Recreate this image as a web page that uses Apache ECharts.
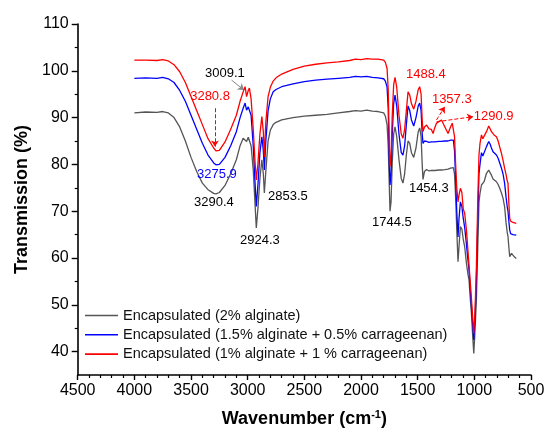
<!DOCTYPE html>
<html><head><meta charset="utf-8">
<script src="https://cdn.jsdelivr.net/npm/echarts@6/dist/echarts.min.js"></script>
<style>html,body{margin:0;padding:0;background:#fff}#c{width:551px;height:439px}</style>
</head><body><div id="c"></div>
<script>
const seriesNames = ['Encapsulated (2% alginate)', 'Encapsulated (1.5% alginate + 0.5% carrageenan)', 'Encapsulated (1% alginate + 1 % carrageenan)'];
const seriesColors = ['#555555', '#0000ff', '#ff0000'];
const wavenumbers = [4000,3900,3800,3750,3700,3650,3600,3550,3500,3450,3400,3350,3300,3280,3250,3200,3150,3100,3067,3040,3023,3010,2995,2985,2970,2951,2935,2924,2910,2892,2875,2862,2853,2840,2820,2800,2775,2750,2700,2600,2500,2400,2300,2200,2100,2050,2000,1950,1900,1850,1800,1785,1770,1760,1750,1744,1735,1725,1712,1700,1685,1665,1645,1630,1615,1600,1585,1570,1555,1535,1515,1495,1482,1470,1460,1453,1440,1422,1400,1380,1364,1350,1334,1310,1290,1260,1232,1210,1195,1185,1175,1165,1155,1144,1135,1123,1110,1098,1085,1070,1056,1047,1035,1026,1015,1005,995,982,970,959,950,937,925,914,893,873,860,849,835,826,805,790,776,762,747,733,720,710,703,696,688,680,672,660,645,630];
const gray = [91.0,91.2,91.1,91.3,91.0,90.0,88.0,85.0,81.5,78.5,76.0,74.6,73.8,73.7,74.0,75.5,78.0,81.0,84.0,85.6,85.5,84.9,85.8,86.1,84.0,78.8,71.5,66.4,70.5,77.0,81.0,78.0,73.9,78.5,85.0,87.3,88.5,89.0,89.5,90.0,90.3,90.5,90.7,91.0,91.3,91.5,91.4,91.6,91.4,91.3,91.0,90.3,88.5,84.0,75.0,70.0,72.0,80.0,86.5,88.0,86.0,81.0,77.0,76.0,78.0,82.0,85.0,84.5,82.5,81.5,83.5,87.0,87.8,86.0,80.0,76.8,78.5,78.9,78.6,78.7,78.6,78.7,78.8,78.8,78.8,78.9,79.0,79.2,79.5,79.3,78.0,73.0,66.0,59.2,62.5,66.7,66.2,64.0,62.4,58.9,56.5,55.3,51.0,48.2,43.5,39.6,44.0,51.0,62.0,72.0,73.8,75.6,75.4,76.3,78.1,78.8,78.2,77.7,76.9,76.7,76.3,75.7,74.9,74.0,72.8,71.0,67.5,65.5,64.6,62.5,60.3,60.5,61.0,60.6,60.2,59.9];
const blue = [98.4,98.5,98.4,98.6,98.3,97.5,95.8,93.5,90.5,87.5,84.5,82.0,80.3,79.9,80.0,81.5,84.0,87.0,90.0,92.0,93.1,91.6,92.3,92.6,90.5,84.0,76.0,71.0,75.5,82.5,85.9,83.0,78.8,85.0,91.5,94.0,95.5,96.0,96.6,97.2,97.7,98.0,98.2,98.4,98.6,98.8,98.7,98.8,98.6,98.5,98.3,97.8,96.5,92.0,80.0,75.6,78.0,86.0,93.0,94.8,92.5,86.5,82.5,82.0,84.0,88.5,92.5,91.5,89.5,88.2,90.0,92.5,93.1,91.5,86.5,84.5,85.0,84.9,84.7,84.8,84.7,84.8,84.8,84.9,84.9,85.0,85.0,85.2,85.4,85.2,83.0,77.0,70.0,64.5,68.5,72.0,71.0,68.5,66.5,63.0,59.5,57.5,53.0,50.0,46.0,42.5,46.5,55.0,68.0,78.0,80.0,82.5,81.8,81.5,83.8,84.9,84.3,83.5,82.7,82.4,82.0,81.3,80.3,79.3,78.0,76.0,73.0,71.0,70.0,68.0,66.0,65.2,65.6,65.0,64.9,64.9];
const red = [102.3,102.3,102.2,102.4,102.1,101.3,99.8,97.5,94.5,91.5,88.5,85.5,83.5,82.9,83.0,84.8,87.5,90.5,93.5,95.5,96.6,94.5,95.8,96.3,94.0,87.5,80.5,76.7,80.0,86.5,90.2,87.0,81.6,89.0,94.5,96.5,97.8,98.5,99.3,100.3,101.0,101.4,101.7,101.9,102.2,102.5,102.4,102.6,102.5,102.5,102.3,101.8,100.5,96.0,84.0,79.5,82.0,90.0,97.0,98.6,96.5,90.5,86.5,85.6,87.5,91.5,95.5,94.8,93.0,91.8,93.5,96.0,96.6,95.0,89.5,87.0,88.0,88.4,87.6,87.5,86.6,87.8,88.8,89.2,89.5,88.0,86.6,88.0,88.8,88.5,86.0,80.0,75.0,72.0,73.5,74.9,74.0,70.5,69.5,66.0,61.5,58.5,54.5,51.5,47.5,43.9,48.0,58.0,72.0,82.0,84.5,86.3,85.5,85.2,87.0,88.2,87.8,87.0,86.6,86.3,85.9,85.0,83.7,82.5,80.9,79.2,77.8,76.5,76.0,72.0,68.5,67.9,68.3,67.6,67.6,67.4];
const yTickValues = [40,50,60,70,80,90,100,110];
const yMinorTickValues = [45,55,65,75,85,95,105];
// annotation labels: text, wavenumber, transmission, colour
const annText = ['3009.1','3280.8','3275.9','3290.4','2924.3','2853.5','1744.5','1454.3','1488.4','1357.3','1290.9'];
const annWn   = [3201,3332,3272,3298,2892,2645,1728,1402,1428,1199,829];
const annT    = [99.5,94.5,77.95,71.9,63.85,73.1,67.6,74.9,99.3,93.9,90.2];
const annColor= ['#000','#ff0000','#0000ff','#000','#000','#000','#000','#000','#ff0000','#ff0000','#ff0000'];
// arrows: [fromWn, fromT, toWn, toT]
const arrows = [[3142,98.0,3033,95.9],[3289,92.0,3289,83.8],[1334,89.5,1261,92.3],[1334,89.1,1011,90.2]];
const arrowColors = ['#888888','#ff0000','#ff0000','#ff0000'];
const arrowTypes = ['solid','dashed','dashed','dashed'];

const FONT = 'Liberation Sans, Arial, sans-serif';
const chart = echarts.init(document.getElementById('c'), null, {renderer:'canvas'});
const vals = [gray, blue, red];
const series = vals.map((v, k) => ({
  name: seriesNames[k], type: 'line', symbol: 'none', smooth: false,
  data: wavenumbers.map((w, i) => [w, v[i]]),
  lineStyle: {color: seriesColors[k], width: 1.3}, itemStyle: {color: seriesColors[k]},
  z: 3 + k, animation: false
}));
series.push({
  type: 'line', name: 'annotations', data: [], symbol: 'none', animation: false, z: 10,
  markPoint: {
    symbol: 'rect', symbolSize: 1, itemStyle: {color: 'rgba(0,0,0,0)'}, animation: false,
    data: annText.map((t, i) => ({coord: [annWn[i], annT[i]], value: t,
      label: {show: true, position: 'inside', formatter: t, color: annColor[i], fontSize: 13, fontFamily: FONT}}))
  },
  markLine: {
    silent: true, animation: false, symbol: ['none', 'arrow'], symbolSize: 6,
    label: {show: false},
    data: arrows.map((a, i) => [
      {coord: [a[0], a[1]], lineStyle: {color: arrowColors[i], type: arrowTypes[i], width: 1}, itemStyle: {color: i === 0 ? '#000' : arrowColors[i]}},
      {coord: [a[2], a[3]]}
    ])
  }
});
chart.setOption({
  animation: false,
  backgroundColor: '#fff',
  grid: {left: 77.7, right: 20, top: 24, bottom: 64, containLabel: false},
  legend: {
    orient: 'vertical', left: 80, top: 303, itemWidth: 33, itemHeight: 1.6, itemGap: 4.3,
    icon: 'rect',
    data: seriesNames, textStyle: {fontSize: 14.5, fontFamily: FONT, color: '#111', lineHeight: 14},
    selectedMode: false
  },
  xAxis: {
    type: 'value', inverse: true, min: 500, max: 4500, interval: 500,
    axisLine: {lineStyle: {color: '#000', width: 1.6}},
    axisTick: {length: 5, lineStyle: {color: '#000', width: 1.4}},
    minorTick: {show: true, splitNumber: 5, length: 3, lineStyle: {color: '#000', width: 1.2}},
    splitLine: {show: false},
    axisLabel: {fontSize: 16, color: '#000', fontFamily: FONT, margin: 8, formatter: v => String(v)},
    name: '{a|Wavenumber (cm}{s|-1}{a|)}', nameLocation: 'middle', nameGap: 34,
    nameTextStyle: {rich: {
      a: {fontSize: 18, fontWeight: 'bold', fontFamily: FONT, color: '#000'},
      s: {fontSize: 11, fontWeight: 'bold', fontFamily: FONT, color: '#000', padding: [0, 0, 9, 0]}
    }}
  },
  yAxis: [{
    type: 'value', min: 35, max: 110,
    axisLine: {show: true, lineStyle: {color: '#000', width: 1.6}},
    axisTick: {show: true, length: 6, customValues: yTickValues, lineStyle: {color: '#000', width: 1.4}},
    axisLabel: {fontSize: 16, color: '#000', fontFamily: FONT, margin: 9, customValues: yTickValues},
    splitLine: {show: false},
    name: 'Transmission (%)', nameLocation: 'middle', nameGap: 47,
    nameTextStyle: {fontSize: 18, fontWeight: 'bold', fontFamily: FONT, color: '#000'}
  }, {
    type: 'value', min: 35, max: 110, position: 'left',
    axisLine: {show: false},
    axisTick: {show: true, length: 3, customValues: yMinorTickValues, lineStyle: {color: '#000', width: 1.2}},
    axisLabel: {show: false, customValues: yMinorTickValues},
    splitLine: {show: false}
  }],
  series: series
});
</script></body></html>
